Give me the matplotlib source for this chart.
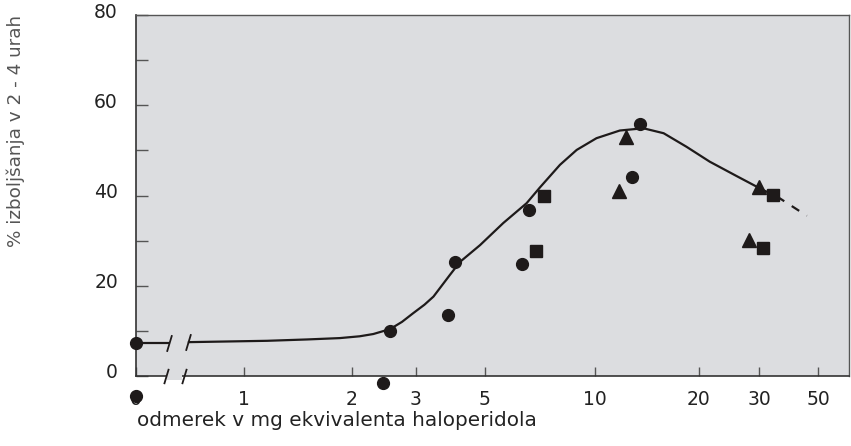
import numpy as np
import matplotlib
matplotlib.use("Agg")
import matplotlib.pyplot as plt
from matplotlib.transforms import ScaledTranslation

plt.rcParams['font.family'] = ['DejaVu Sans']

# podatki (odčitani s slike)
circle_dose = [0, 0, 2.44, 2.55, 3.8, 4.0, 6.3, 6.6, 12.8, 13.5]
circle_val = [7.3, -4.4, -1.6, 10.0, 13.5, 25.2, 24.8, 36.8, 44.0, 55.8]
triangle_dose = [11.7, 12.3, 28.1, 30.1]
triangle_val = [41.0, 52.9, 30.2, 41.8]
square_dose = [6.9, 7.25, 31.1, 33.8]
square_val = [27.6, 39.8, 28.3, 40.1]

curve1_dose = [0, 0.31]
curve1_val = [7.3, 7.3]
curve2_dose = [0.48, 1.16, 1.5, 1.85, 2.1, 2.29, 2.55, 2.75, 2.95, 3.2, 3.42, 3.86,
               4.16, 4.82, 5.61, 6.5, 7.07, 8.02, 8.91, 10.1, 11.8, 13.8, 15.8,
               18.4, 21.5, 25.8, 31.1, 35.0]
curve2_val = [7.5, 7.8, 8.1, 8.4, 8.8, 9.3, 10.4, 12.0, 13.9, 15.8, 17.6, 22.4,
              25.3, 29.0, 33.9, 38.3, 41.8, 46.8, 50.1, 52.7, 54.4, 54.9, 53.8,
              50.8, 47.5, 44.3, 41.2, 39.8]
dash_dose = [35.0, 45.4]
dash_val = [39.8, 35.5]

tick_dose = [0, 1, 2, 3, 5, 10, 20, 30, 50]
tick_labels = ['0', '1', '2', '3', '5', '10', '20', '30', '50']

# skala osi x: prelom med 0 in 1, nato približno logaritemska
anchor_dose = np.array([1, 2, 3, 5, 10, 20, 30, 50, 100])
anchor_u = np.array([108, 216, 279.7, 349, 459, 563, 623, 682, 762])


def fwd(x):
    x = np.asarray(x, dtype=float)
    lx = np.log10(np.clip(x, 1e-9, None))
    u = np.interp(lx, np.log10(anchor_dose), anchor_u)
    return np.where(x < 1, x * anchor_u[0], u)


def inv(u):
    u = np.asarray(u, dtype=float)
    d = 10 ** np.interp(u, anchor_u, np.log10(anchor_dose))
    return np.where(u < anchor_u[0], u / anchor_u[0], d)


bg = '#dcdde0'
ink = '#1e1a1a'

fig = plt.figure(figsize=(8.51, 4.46), dpi=100)
ax = fig.add_axes([136 / 851, 1 - 376 / 446, 713 / 851, 361 / 446])
ax.set_facecolor(bg)
ax.set_xscale('function', functions=(fwd, inv))
ax.set_xlim(0, float(inv(713)))
ax.set_ylim(0, 80)

# krivulja
ax.plot(curve1_dose, curve1_val, color=ink, lw=1.6, solid_capstyle='butt')
ax.plot(curve2_dose, curve2_val, color=ink, lw=1.6, solid_capstyle='butt',
        solid_joinstyle='round')
ax.plot(dash_dose, dash_val, color=ink, lw=1.6, dashes=(4, 4))

# prelom
slash = [(-0.3, -1), (0.3, 1)]
ax.plot([0.31, 0.48], [7.3, 7.5], ls='none', marker=slash, ms=12, mew=1.3,
        color=ink, zorder=4)
ax.plot([0.28, 0.44], [0, 0], ls='none', marker=slash, ms=11, mew=1.3,
        color=ink, zorder=4, clip_on=False)
ax.axvspan(0.29, 0.43, ymin=-0.01, ymax=0.01, color=bg, zorder=3,
           clip_on=False, lw=0)

# točke
ax.plot(circle_dose, circle_val, 'o', color=ink, ms=8.5, clip_on=False, zorder=5)
ax.plot(triangle_dose, triangle_val, '^', color=ink, ms=10, clip_on=False, zorder=5)
ax.plot(square_dose, square_val, 's', color=ink, ms=9, clip_on=False, zorder=5)

ax.set_xticks(tick_dose)
ax.set_xticklabels(tick_labels)
ax.xaxis.set_minor_locator(matplotlib.ticker.NullLocator())
ax.set_yticks([0, 20, 40, 60, 80])
ax.set_yticks([10, 30, 50, 70], minor=True)
ax.tick_params(axis='x', direction='in', length=6.5, width=1, color='#555555',
               labelsize=13.5, labelcolor='#222222', pad=10)
ax.tick_params(axis='y', which='both', direction='in', length=8.5, width=1,
               color='#555555', labelsize=13.5, labelcolor='#222222', pad=13)

# oznake na osi y so malo nad črtami
up = ScaledTranslation(0, 5 / 100, fig.dpi_scale_trans)
for lab in ax.get_yticklabels():
    lab.set_transform(lab.get_transform() + up)

for side in ['top', 'right']:
    ax.spines[side].set_color('#555555')
    ax.spines[side].set_linewidth(1.0)
for side in ['left', 'bottom']:
    ax.spines[side].set_color('#333333')
    ax.spines[side].set_linewidth(1.2)

fig.text(137 / 851, 1 - 421 / 446, 'odmerek v mg ekvivalenta haloperidola',
         fontsize=14.4, color='#222222', ha='left', va='center')
fig.text(16 / 851, 1 - 131 / 446, '% izboljšanja v 2 - 4 urah',
         fontsize=13.2, color='#555555', rotation=90, ha='center', va='center')

fig.savefig('out.png', dpi=100, facecolor='white')
